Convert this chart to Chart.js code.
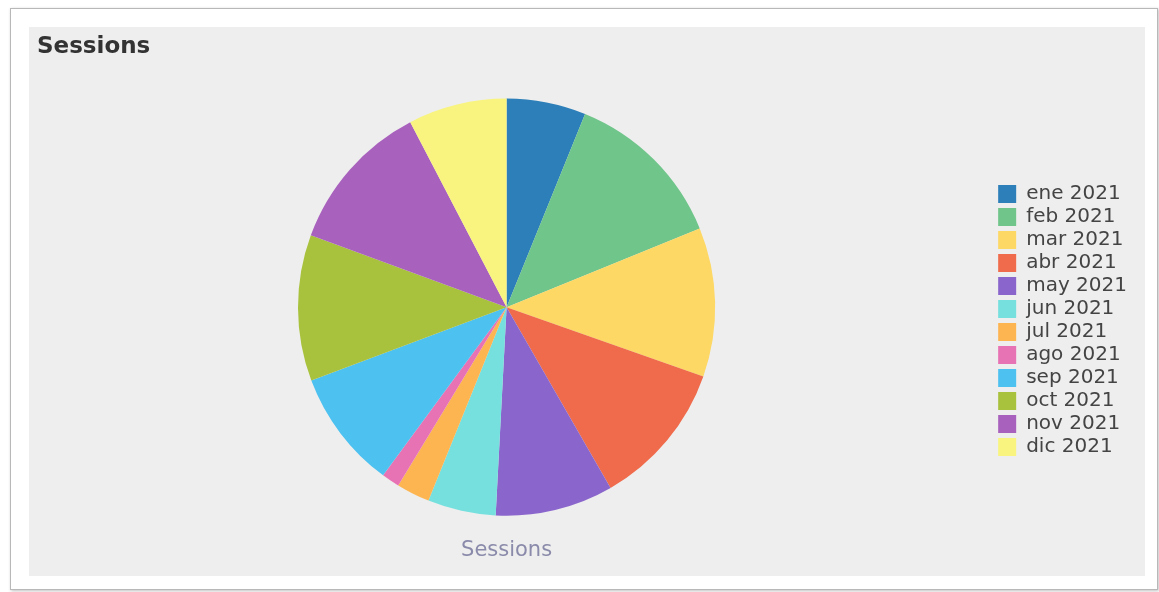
<!DOCTYPE html>
<html>
<head>
<meta charset="utf-8">
<script src="https://cdn.jsdelivr.net/npm/chart.js@4/dist/chart.umd.min.js"></script>
<style>
    body { margin: 0; background: #fff; font-family: "DejaVu Sans", sans-serif; }
    .marco {
        position: absolute; left: 10px; top: 8px; width: 1146px; height: 580px;
        border: 1px solid #b8b8b8; box-shadow: 1px 1px 3px rgba(0,0,0,0.25); background: #fff;
    }
    .panel { position: absolute; left: 29px; top: 27px; width: 1116px; height: 549px; background: #eeeeee; }
</style>
</head>
<body>
<div class="marco"></div>
<div class="panel"><canvas id="sessionsChart" width="1116" height="549"></canvas></div>
<script>
"use strict";

const meses = ["ene 2021", "feb 2021", "mar 2021", "abr 2021", "may 2021", "jun 2021",
    "jul 2021", "ago 2021", "sep 2021", "oct 2021", "nov 2021", "dic 2021"];
const sesiones = [221, 457, 416, 407, 329, 190, 93, 50, 331, 408, 423, 275];
const colores = ["#2c7fb8", "#6fc58a", "#fdd865", "#ef6b4b", "#8a66cc", "#76e0de",
    "#fdb552", "#e873b4", "#4dc1f0", "#a8c23e", "#a862bd", "#f8f47f"];

const ctxSessions = document.getElementById("sessionsChart");

// separa la leyenda del pie (a la derecha y un poco mas abajo)
const moverLeyenda = {
    id: "moverLeyenda",
    afterLayout(chart) {
        const legend = chart.legend;
        legend.left += 19;
        legend.right += 19;
        legend.top += 19;
        legend.bottom += 19;
    },
};

let sessionsChart = new Chart(ctxSessions, {
    type: "pie",
    data: {
        labels: meses,
        datasets: [
            {
                label: "Sessions",
                data: sesiones,
                backgroundColor: colores,
                borderWidth: 0,
            },
        ],
    },
    options: {
        responsive: false,
        animation: false,
        layout: {
            padding: { left: 8, right: 27 },
        },
        plugins: {
            title: {
                display: true,
                text: "Sessions",
                align: "start",
                color: "#333",
                font: { family: "DejaVu Sans", size: 23, weight: "bold" },
                padding: { top: 6, bottom: 38 },
            },
            subtitle: {
                display: true,
                position: "bottom",
                fullSize: false,
                text: "Sessions",
                color: "#8a8aaa",
                font: { family: "DejaVu Sans", size: 21 },
                padding: { top: 22, bottom: 13 },
            },
            legend: {
                position: "right",
                labels: {
                    color: "#444",
                    font: { family: "DejaVu Sans", size: 20 },
                    boxWidth: 18,
                    boxHeight: 18,
                    padding: 3,
                },
            },
            tooltip: { enabled: false },
        },
    },
    plugins: [moverLeyenda],
});
</script>
</body>
</html>
